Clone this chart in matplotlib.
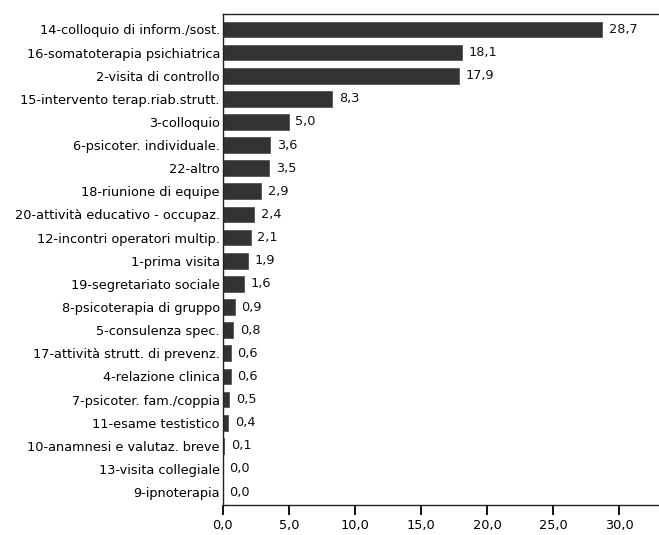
import matplotlib
matplotlib.use("Agg")
import matplotlib.pyplot as plt

plt.rcParams["font.family"] = ["DejaVu Sans"]

categories = [
    "14-colloquio di inform./sost.",
    "16-somatoterapia psichiatrica",
    "2-visita di controllo",
    "15-intervento terap.riab.strutt.",
    "3-colloquio",
    "6-psicoter. individuale.",
    "22-altro",
    "18-riunione di equipe",
    "20-attività educativo - occupaz.",
    "12-incontri operatori multip.",
    "1-prima visita",
    "19-segretariato sociale",
    "8-psicoterapia di gruppo",
    "5-consulenza spec.",
    "17-attività strutt. di prevenz.",
    "4-relazione clinica",
    "7-psicoter. fam./coppia",
    "11-esame testistico",
    "10-anamnesi e valutaz. breve",
    "13-visita collegiale",
    "9-ipnoterapia",
]
values = [28.7, 18.1, 17.9, 8.3, 5.0, 3.6, 3.5, 2.9, 2.4, 2.1, 1.9, 1.6,
          0.9, 0.8, 0.6, 0.6, 0.5, 0.4, 0.1, 0.0, 0.0]
xticks = [0, 5, 10, 15, 20, 25, 30]

def fmt(v):
    return f"{v:.1f}".replace(".", ",")

fs = 9.3
fig = plt.figure(figsize=(6.59, 5.35), dpi=100)
ax = fig.add_axes([0.338, 0.056, 0.662, 0.918])
y = list(range(len(categories)))
ax.barh(y, values, height=0.68, color="#333333", edgecolor="#555555", linewidth=0.6)
for yi, v in zip(y, values):
    ax.text(v + 0.5, yi, fmt(v), va="center", ha="left", fontsize=fs, color="#111111")
ax.set_yticks(y)
ax.set_yticklabels(categories, fontsize=fs)
ax.set_ylim(len(categories) - 0.44, -0.67)
ax.set_xlim(0, 33)
ax.set_xticks(xticks)
ax.set_xticklabels([fmt(t) for t in xticks], fontsize=fs)
ax.tick_params(axis="y", length=0, pad=2)
ax.tick_params(axis="x", length=7, width=1.3, direction="out", pad=3)
ax.spines["right"].set_visible(False)
for s in ["left", "top", "bottom"]:
    ax.spines[s].set_linewidth(1.0)
    ax.spines[s].set_color("#222222")
fig.savefig("out.png", dpi=100)
